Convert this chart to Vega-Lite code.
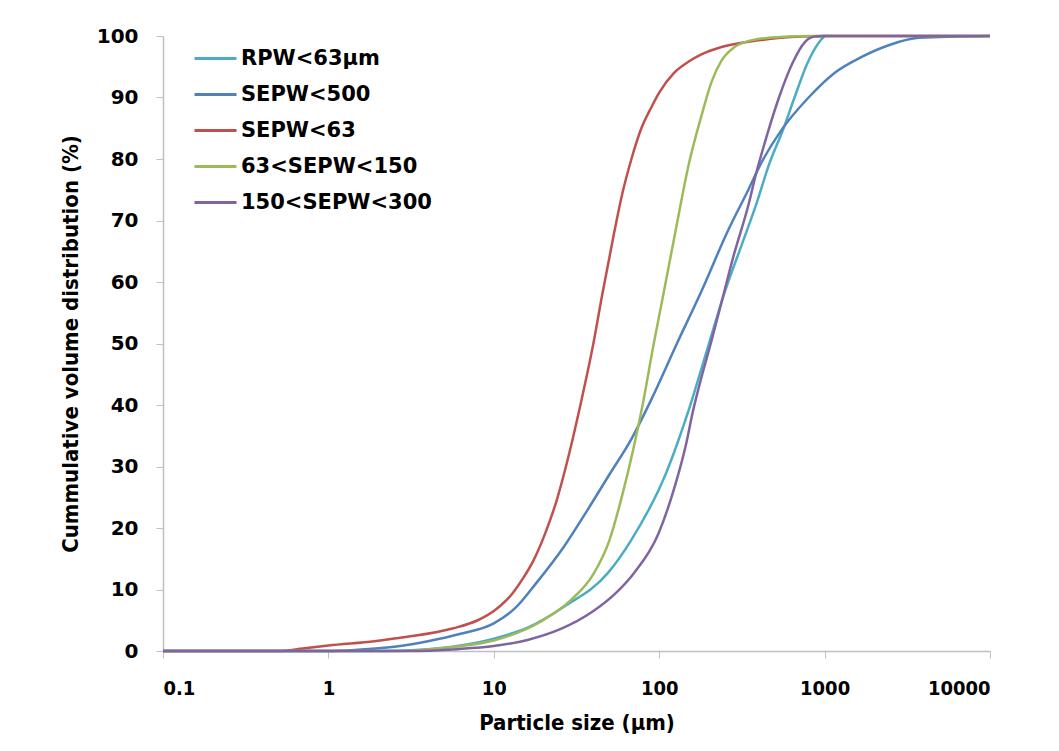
{
  "$schema": "https://vega.github.io/schema/vega-lite/v6.json",
  "autosize": {"type": "none"},
  "padding": {"left": 163, "top": 36, "right": 69, "bottom": 100},
  "width": 827,
  "height": 615,
  "background": "white",
  "config": {"view": {"stroke": null}},
  "data": {"values": [
    {"s": "RPW<63µm", "x": 0.1, "y": 0},
    {"s": "RPW<63µm", "x": 2, "y": 0},
    {"s": "RPW<63µm", "x": 4, "y": 0.3},
    {"s": "RPW<63µm", "x": 6, "y": 0.8},
    {"s": "RPW<63µm", "x": 10, "y": 2},
    {"s": "RPW<63µm", "x": 16, "y": 3.8},
    {"s": "RPW<63µm", "x": 26.6, "y": 7.2},
    {"s": "RPW<63µm", "x": 49, "y": 12.7},
    {"s": "RPW<63µm", "x": 67.6, "y": 18},
    {"s": "RPW<63µm", "x": 110, "y": 28.9},
    {"s": "RPW<63µm", "x": 150, "y": 39},
    {"s": "RPW<63µm", "x": 200, "y": 50},
    {"s": "RPW<63µm", "x": 250, "y": 58.5},
    {"s": "RPW<63µm", "x": 315, "y": 66},
    {"s": "RPW<63µm", "x": 390, "y": 73},
    {"s": "RPW<63µm", "x": 460, "y": 79},
    {"s": "RPW<63µm", "x": 565, "y": 85},
    {"s": "RPW<63µm", "x": 658, "y": 90},
    {"s": "RPW<63µm", "x": 788, "y": 95.6},
    {"s": "RPW<63µm", "x": 946, "y": 99.3},
    {"s": "RPW<63µm", "x": 1000, "y": 100},

    {"s": "SEPW<500", "x": 0.1, "y": 0},
    {"s": "SEPW<500", "x": 1, "y": 0},
    {"s": "SEPW<500", "x": 1.5, "y": 0.2},
    {"s": "SEPW<500", "x": 2.5, "y": 0.7},
    {"s": "SEPW<500", "x": 4, "y": 1.6},
    {"s": "SEPW<500", "x": 6.3, "y": 2.8},
    {"s": "SEPW<500", "x": 10, "y": 4.5},
    {"s": "SEPW<500", "x": 13.5, "y": 7},
    {"s": "SEPW<500", "x": 18, "y": 11},
    {"s": "SEPW<500", "x": 26.6, "y": 17},
    {"s": "SEPW<500", "x": 37, "y": 23},
    {"s": "SEPW<500", "x": 50, "y": 28.7},
    {"s": "SEPW<500", "x": 68, "y": 34.5},
    {"s": "SEPW<500", "x": 90, "y": 41},
    {"s": "SEPW<500", "x": 128, "y": 50},
    {"s": "SEPW<500", "x": 180, "y": 58.5},
    {"s": "SEPW<500", "x": 262, "y": 68.5},
    {"s": "SEPW<500", "x": 346, "y": 75},
    {"s": "SEPW<500", "x": 415, "y": 79.4},
    {"s": "SEPW<500", "x": 548, "y": 84.7},
    {"s": "SEPW<500", "x": 800, "y": 90},
    {"s": "SEPW<500", "x": 1148, "y": 94},
    {"s": "SEPW<500", "x": 1675, "y": 96.6},
    {"s": "SEPW<500", "x": 2441, "y": 98.5},
    {"s": "SEPW<500", "x": 3715, "y": 99.7},
    {"s": "SEPW<500", "x": 10000, "y": 100},

    {"s": "SEPW<63", "x": 0.1, "y": 0},
    {"s": "SEPW<63", "x": 0.5, "y": 0},
    {"s": "SEPW<63", "x": 0.7, "y": 0.4},
    {"s": "SEPW<63", "x": 1, "y": 0.9},
    {"s": "SEPW<63", "x": 1.9, "y": 1.6},
    {"s": "SEPW<63", "x": 3, "y": 2.3},
    {"s": "SEPW<63", "x": 5.7, "y": 3.7},
    {"s": "SEPW<63", "x": 8, "y": 5},
    {"s": "SEPW<63", "x": 10, "y": 6.5},
    {"s": "SEPW<63", "x": 11, "y": 7.4},
    {"s": "SEPW<63", "x": 13, "y": 9.4},
    {"s": "SEPW<63", "x": 15, "y": 11.8},
    {"s": "SEPW<63", "x": 17.2, "y": 14.5},
    {"s": "SEPW<63", "x": 20.7, "y": 19.5},
    {"s": "SEPW<63", "x": 24, "y": 24.5},
    {"s": "SEPW<63", "x": 27.3, "y": 30},
    {"s": "SEPW<63", "x": 33.7, "y": 40.5},
    {"s": "SEPW<63", "x": 40, "y": 50},
    {"s": "SEPW<63", "x": 45, "y": 57.6},
    {"s": "SEPW<63", "x": 53.4, "y": 68},
    {"s": "SEPW<63", "x": 60, "y": 74.5},
    {"s": "SEPW<63", "x": 67.6, "y": 79.8},
    {"s": "SEPW<63", "x": 78, "y": 85},
    {"s": "SEPW<63", "x": 90, "y": 88.5},
    {"s": "SEPW<63", "x": 100, "y": 90.8},
    {"s": "SEPW<63", "x": 123, "y": 94},
    {"s": "SEPW<63", "x": 150, "y": 95.8},
    {"s": "SEPW<63", "x": 180, "y": 97},
    {"s": "SEPW<63", "x": 238, "y": 98.2},
    {"s": "SEPW<63", "x": 400, "y": 99.3},
    {"s": "SEPW<63", "x": 726, "y": 99.9},
    {"s": "SEPW<63", "x": 1000, "y": 100},
    {"s": "SEPW<63", "x": 10000, "y": 100},

    {"s": "63<SEPW<150", "x": 0.1, "y": 0},
    {"s": "63<SEPW<150", "x": 2.7, "y": 0},
    {"s": "63<SEPW<150", "x": 5.5, "y": 0.6},
    {"s": "63<SEPW<150", "x": 10, "y": 1.7},
    {"s": "63<SEPW<150", "x": 19.3, "y": 4.8},
    {"s": "63<SEPW<150", "x": 29.3, "y": 8.3},
    {"s": "63<SEPW<150", "x": 40, "y": 12.5},
    {"s": "63<SEPW<150", "x": 50, "y": 18},
    {"s": "63<SEPW<150", "x": 60, "y": 25.5},
    {"s": "63<SEPW<150", "x": 70, "y": 33},
    {"s": "63<SEPW<150", "x": 80, "y": 40.5},
    {"s": "63<SEPW<150", "x": 92, "y": 49.5},
    {"s": "63<SEPW<150", "x": 106, "y": 58},
    {"s": "63<SEPW<150", "x": 127, "y": 69},
    {"s": "63<SEPW<150", "x": 152, "y": 79.5},
    {"s": "63<SEPW<150", "x": 180, "y": 87},
    {"s": "63<SEPW<150", "x": 207, "y": 92.5},
    {"s": "63<SEPW<150", "x": 238, "y": 96},
    {"s": "63<SEPW<150", "x": 285, "y": 98.2},
    {"s": "63<SEPW<150", "x": 350, "y": 99.2},
    {"s": "63<SEPW<150", "x": 457, "y": 99.7},
    {"s": "63<SEPW<150", "x": 800, "y": 100},
    {"s": "63<SEPW<150", "x": 10000, "y": 100},

    {"s": "150<SEPW<300", "x": 0.1, "y": 0},
    {"s": "150<SEPW<300", "x": 3, "y": 0},
    {"s": "150<SEPW<300", "x": 6, "y": 0.3},
    {"s": "150<SEPW<300", "x": 10, "y": 0.8},
    {"s": "150<SEPW<300", "x": 16, "y": 1.8},
    {"s": "150<SEPW<300", "x": 25, "y": 3.5},
    {"s": "150<SEPW<300", "x": 40, "y": 6.5},
    {"s": "150<SEPW<300", "x": 55, "y": 9.5},
    {"s": "150<SEPW<300", "x": 70.5, "y": 12.7},
    {"s": "150<SEPW<300", "x": 98.6, "y": 19},
    {"s": "150<SEPW<300", "x": 125, "y": 27},
    {"s": "150<SEPW<300", "x": 145, "y": 33.5},
    {"s": "150<SEPW<300", "x": 160, "y": 39},
    {"s": "150<SEPW<300", "x": 180, "y": 44.5},
    {"s": "150<SEPW<300", "x": 205, "y": 50},
    {"s": "150<SEPW<300", "x": 245, "y": 58},
    {"s": "150<SEPW<300", "x": 280, "y": 64},
    {"s": "150<SEPW<300", "x": 350, "y": 73},
    {"s": "150<SEPW<300", "x": 380, "y": 77},
    {"s": "150<SEPW<300", "x": 450, "y": 84},
    {"s": "150<SEPW<300", "x": 530, "y": 90},
    {"s": "150<SEPW<300", "x": 640, "y": 95.6},
    {"s": "150<SEPW<300", "x": 760, "y": 99},
    {"s": "150<SEPW<300", "x": 870, "y": 99.9},
    {"s": "150<SEPW<300", "x": 1000, "y": 100},
    {"s": "150<SEPW<300", "x": 10000, "y": 100}
  ]},
  "mark": {"type": "line", "interpolate": "monotone", "strokeWidth": 2.5},
  "encoding": {
    "x": {
      "field": "x", "type": "quantitative",
      "scale": {"type": "log", "domain": [0.1, 10000], "nice": false},
      "axis": {
        "values": [0.1, 1, 10, 100, 1000, 10000],
        "format": "~g",
        "grid": false,
        "title": "Particle size (µm)",
        "titleFont": "DejaVu Sans Condensed", "titleFontWeight": "bold", "titleFontSize": 22, "titleColor": "#000000",
        "titlePadding": 14,
        "labelFont": "DejaVu Sans Condensed", "labelFontWeight": "bold", "labelFontSize": 20, "labelColor": "#000000",
        "labelPadding": 20,
        "domainColor": "#c0c0c0", "domainWidth": 1.5,
        "tickColor": "#c0c0c0", "tickSize": 7, "tickWidth": 1
      }
    },
    "y": {
      "field": "y", "type": "quantitative",
      "scale": {"domain": [0, 100], "nice": false},
      "axis": {
        "values": [0, 10, 20, 30, 40, 50, 60, 70, 80, 90, 100],
        "grid": false,
        "title": "Cummulative volume distribution (%)",
        "titleFont": "DejaVu Sans Condensed", "titleFontWeight": "bold", "titleFontSize": 22, "titleColor": "#000000",
        "titlePadding": 14,
        "labelFont": "DejaVu Sans", "labelFontWeight": "bold", "labelFontSize": 20, "labelColor": "#000000",
        "labelPadding": 18,
        "domainColor": "#c0c0c0", "domainWidth": 1.5,
        "tickColor": "#c0c0c0", "tickSize": 7, "tickWidth": 1
      }
    },
    "color": {
      "field": "s", "type": "nominal",
      "scale": {
        "domain": ["RPW<63µm", "SEPW<500", "SEPW<63", "63<SEPW<150", "150<SEPW<300"],
        "range": ["#4BACC6", "#4F81BD", "#C0504D", "#9BBB59", "#8064A2"]
      },
      "legend": {
        "title": null,
        "orient": "none",
        "legendX": 30,
        "legendY": 0,
        "symbolType": "stroke",
        "symbolSize": 1764,
        "symbolStrokeWidth": 3,
        "labelFont": "DejaVu Sans", "labelFontWeight": "bold", "labelFontSize": 21, "labelColor": "#000000",
        "labelOffset": 3,
        "rowPadding": 3,
        "labelLimit": 400
      }
    }
  }
}
